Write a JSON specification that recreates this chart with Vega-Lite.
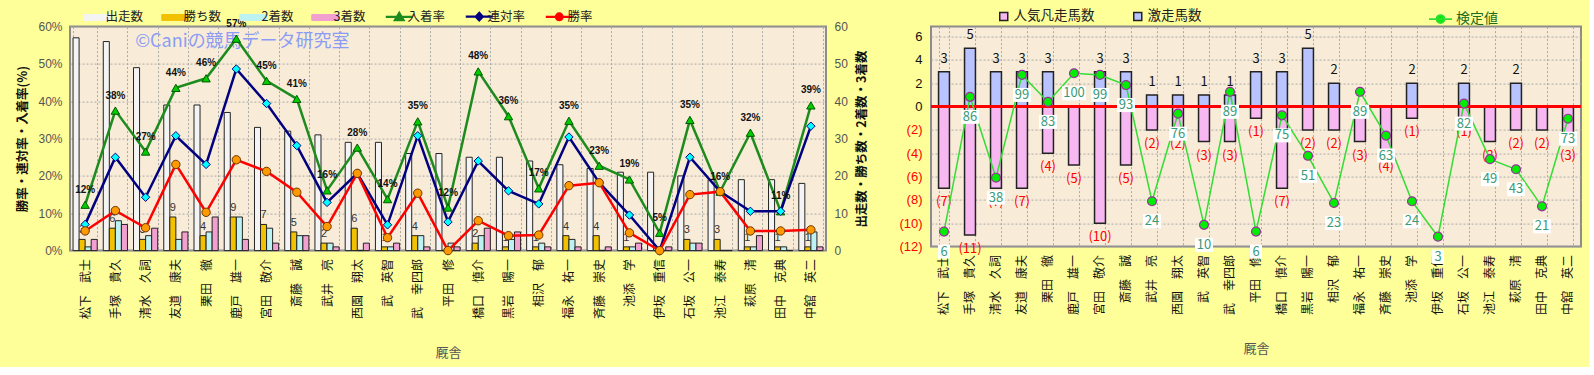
{
  "$schema": "https://vega.github.io/schema/vega-lite/v6.json",
  "background": "#FFFF99",
  "padding": {"left": 15, "top": 5.6, "right": 5, "bottom": 5},
  "spacing": 28,
  "config": {
    "font": "Noto Sans CJK JP",
    "view": {"fill": "#F8ECD8", "stroke": "#8C8C8C", "strokeWidth": 2},
    "axis": {"labelFont": "Noto Sans CJK JP", "titleFont": "Noto Sans CJK JP", "domain": false, "ticks": false, "gridColor": "#AAAAAA", "gridDash": [2, 2], "gridWidth": 1, "labelColor": "#444444", "labelFontSize": 12, "labelOverlap": false},
    "legend": {"labelFont": "Noto Sans CJK JP", "labelFontSize": 12.5, "labelColor": "#222222"}
  },
  "resolve": {"scale": {"color": "independent", "fill": "independent", "stroke": "independent", "shape": "independent"}, "legend": {"color": "independent", "fill": "independent", "stroke": "independent", "shape": "independent"}},
  "datasets": {
    "d": [
      {"厩舎": "松下　武士", "出走数": 57, "勝ち数": 3, "2着数": 1, "3着数": 3, "勝率": 0.0526, "連対率": 0.0702, "入着率": 0.1228, "激走馬数": 3, "人気凡走馬数": -7, "検定値": 6},
      {"厩舎": "手塚　貴久", "出走数": 56, "勝ち数": 6, "2着数": 8, "3着数": 7, "勝率": 0.1071, "連対率": 0.25, "入着率": 0.375, "激走馬数": 5, "人気凡走馬数": -11, "検定値": 86},
      {"厩舎": "清水　久詞", "出走数": 49, "勝ち数": 3, "2着数": 4, "3着数": 6, "勝率": 0.0612, "連対率": 0.1429, "入着率": 0.2653, "激走馬数": 3, "人気凡走馬数": -7, "検定値": 38},
      {"厩舎": "友道　康夫", "出走数": 39, "勝ち数": 9, "2着数": 3, "3着数": 5, "勝率": 0.2308, "連対率": 0.3077, "入着率": 0.4359, "激走馬数": 3, "人気凡走馬数": -7, "検定値": 99},
      {"厩舎": "栗田　徹", "出走数": 39, "勝ち数": 4, "2着数": 5, "3着数": 9, "勝率": 0.1026, "連対率": 0.2308, "入着率": 0.4615, "激走馬数": 3, "人気凡走馬数": -4, "検定値": 83},
      {"厩舎": "鹿戸　雄一", "出走数": 37, "勝ち数": 9, "2着数": 9, "3着数": 3, "勝率": 0.2432, "連対率": 0.4865, "入着率": 0.5676, "激走馬数": 0, "人気凡走馬数": -5, "検定値": 100},
      {"厩舎": "宮田　敬介", "出走数": 33, "勝ち数": 7, "2着数": 6, "3着数": 2, "勝率": 0.2121, "連対率": 0.3939, "入着率": 0.4545, "激走馬数": 3, "人気凡走馬数": -10, "検定値": 99},
      {"厩舎": "斎藤　誠", "出走数": 32, "勝ち数": 5, "2着数": 4, "3着数": 4, "勝率": 0.1563, "連対率": 0.2813, "入着率": 0.4063, "激走馬数": 3, "人気凡走馬数": -5, "検定値": 93},
      {"厩舎": "武井　亮", "出走数": 31, "勝ち数": 2, "2着数": 2, "3着数": 1, "勝率": 0.0645, "連対率": 0.129, "入着率": 0.1613, "激走馬数": 1, "人気凡走馬数": -2, "検定値": 24},
      {"厩舎": "西園　翔太", "出走数": 29, "勝ち数": 6, "2着数": 0, "3着数": 2, "勝率": 0.2069, "連対率": 0.2069, "入着率": 0.2759, "激走馬数": 1, "人気凡走馬数": -2, "検定値": 76},
      {"厩舎": "武　英智", "出走数": 29, "勝ち数": 1, "2着数": 1, "3着数": 2, "勝率": 0.0345, "連対率": 0.069, "入着率": 0.1379, "激走馬数": 1, "人気凡走馬数": -3, "検定値": 10},
      {"厩舎": "武　幸四郎", "出走数": 26, "勝ち数": 4, "2着数": 4, "3着数": 1, "勝率": 0.1538, "連対率": 0.3077, "入着率": 0.3462, "激走馬数": 1, "人気凡走馬数": -3, "検定値": 89},
      {"厩舎": "平田　修", "出走数": 26, "勝ち数": 0, "2着数": 2, "3着数": 1, "勝率": 0, "連対率": 0.0769, "入着率": 0.1154, "激走馬数": 3, "人気凡走馬数": -1, "検定値": 6},
      {"厩舎": "橋口　慎介", "出走数": 25, "勝ち数": 2, "2着数": 4, "3着数": 6, "勝率": 0.08, "連対率": 0.24, "入着率": 0.48, "激走馬数": 3, "人気凡走馬数": -7, "検定値": 75},
      {"厩舎": "黒岩　陽一", "出走数": 25, "勝ち数": 1, "2着数": 3, "3着数": 5, "勝率": 0.04, "連対率": 0.16, "入着率": 0.36, "激走馬数": 5, "人気凡走馬数": -2, "検定値": 51},
      {"厩舎": "相沢　郁", "出走数": 24, "勝ち数": 1, "2着数": 2, "3着数": 1, "勝率": 0.0417, "連対率": 0.125, "入着率": 0.1667, "激走馬数": 2, "人気凡走馬数": -2, "検定値": 23},
      {"厩舎": "福永　祐一", "出走数": 23, "勝ち数": 4, "2着数": 3, "3着数": 1, "勝率": 0.1739, "連対率": 0.3043, "入着率": 0.3478, "激走馬数": 0, "人気凡走馬数": -3, "検定値": 89},
      {"厩舎": "斉藤　崇史", "出走数": 22, "勝ち数": 4, "2着数": 0, "3着数": 1, "勝率": 0.1818, "連対率": 0.1818, "入着率": 0.2273, "激走馬数": 0, "人気凡走馬数": -4, "検定値": 63},
      {"厩舎": "池添　学", "出走数": 21, "勝ち数": 1, "2着数": 1, "3着数": 2, "勝率": 0.0476, "連対率": 0.0952, "入着率": 0.1905, "激走馬数": 2, "人気凡走馬数": -1, "検定値": 24},
      {"厩舎": "伊坂　重信", "出走数": 21, "勝ち数": 0, "2着数": 0, "3着数": 1, "勝率": 0, "連対率": 0, "入着率": 0.0476, "激走馬数": 0, "人気凡走馬数": 0, "検定値": 3},
      {"厩舎": "石坂　公一", "出走数": 20, "勝ち数": 3, "2着数": 2, "3着数": 2, "勝率": 0.15, "連対率": 0.25, "入着率": 0.35, "激走馬数": 2, "人気凡走馬数": -1, "検定値": 82},
      {"厩舎": "池江　泰寿", "出走数": 19, "勝ち数": 3, "2着数": 0, "3着数": 0, "勝率": 0.1579, "連対率": 0.1579, "入着率": 0.1579, "激走馬数": 0, "人気凡走馬数": -3, "検定値": 49},
      {"厩舎": "萩原　清", "出走数": 19, "勝ち数": 1, "2着数": 1, "3着数": 4, "勝率": 0.0526, "連対率": 0.1053, "入着率": 0.3158, "激走馬数": 2, "人気凡走馬数": -2, "検定値": 43},
      {"厩舎": "田中　克典", "出走数": 19, "勝ち数": 1, "2着数": 1, "3着数": 0, "勝率": 0.0526, "連対率": 0.1053, "入着率": 0.1053, "激走馬数": 0, "人気凡走馬数": -2, "検定値": 21},
      {"厩舎": "中舘　英二", "出走数": 18, "勝ち数": 1, "2着数": 5, "3着数": 1, "勝率": 0.0556, "連対率": 0.3333, "入着率": 0.3889, "激走馬数": 0, "人気凡走馬数": -3, "検定値": 73}
    ]
  },
  "hconcat": [
    {
      "width": 756,
      "height": 224,
      "data": {"name": "d"},
      "layer": [
        {
          "layer": [
            {
              "transform": [{"fold": ["出走数", "勝ち数", "2着数", "3着数"], "as": ["key", "value"]}],
              "mark": {"type": "bar", "stroke": "#222222", "strokeWidth": 1},
              "encoding": {
                "x": {"field": "厩舎", "type": "nominal", "sort": null, "scale": {"paddingInner": 0.2, "paddingOuter": 0.1},
                  "axis": {"title": "厩舎", "labelAngle": -90, "labelPadding": 8, "labelColor": "#111111", "labelFontSize": 12, "tickBand": "extent", "grid": true, "titlePadding": 28, "titleFontSize": 13, "titleFontWeight": "normal", "titleColor": "#555555"}},
                "xOffset": {"field": "key", "type": "nominal", "scale": {"domain": ["出走数", "勝ち数", "2着数", "3着数"], "paddingInner": 0, "paddingOuter": 0}},
                "y": {"field": "value", "type": "quantitative", "stack": null, "scale": {"domain": [0, 60], "nice": false},
                  "axis": {"orient": "right", "values": [0, 10, 20, 30, 40, 50, 60], "tickCount": 20, "grid": false, "title": "出走数・勝ち数・2着数・3着数", "titleAngle": 270, "titleBaseline": "top", "titleFontSize": 12.5, "titleFontWeight": "bold", "titleColor": "#111111", "labelFont": "Liberation Sans", "labelColor": "#555555", "labelPadding": 8, "titlePadding": 8, "labelOverlap": false, "labelFlush": false}},
                "color": {"field": "key", "type": "nominal",
                  "scale": {"domain": ["出走数", "勝ち数", "2着数", "3着数", "入着率", "連対率", "勝率"], "range": ["#F4F4F4", "#F2C200", "#BDF2F2", "#F2A0D0", "#1E8B1E", "#000080", "#FF0000"]},
                  "legend": {"title": null, "orient": "none", "legendX": 21, "legendY": -16.5, "direction": "horizontal", "columns": 7, "symbolSize": 729, "columnPadding": 15, "labelOffset": 2,
                    "encode": {"symbols": {"update": {
                      "shape": {"signal": "datum.value === '入着率' ? 'M-1,0H1M-0.32,0.24L0,-0.3L0.32,0.24Z' : datum.value === '連対率' ? 'M-1,0H1M0,-0.28L0.26,0L0,0.28L-0.26,0Z' : datum.value === '勝率' ? 'M-1,0H1M0.25,0A0.25,0.25 0 1 1 -0.25,0A0.25,0.25 0 1 1 0.25,0Z' : 'M-1,-0.22H1V0.22H-1Z'"},
                      "fill": {"signal": "datum.value === '入着率' ? '#00CC00' : datum.value === '連対率' ? '#00FFFF' : datum.value === '勝率' ? '#FF9900' : datum.value === '出走数' ? '#F4F4F4' : datum.value === '勝ち数' ? '#F2C200' : datum.value === '2着数' ? '#BDF2F2' : '#F2A0D0'"},
                      "stroke": {"signal": "datum.value === '入着率' ? '#1E8B1E' : datum.value === '連対率' ? '#000080' : datum.value === '勝率' ? '#FF0000' : '#222222'"},
                      "strokeWidth": {"signal": "indexof(['入着率','連対率','勝率'], datum.value) >= 0 ? 2.2 : 1"},
                      "opacity": {"value": 1}
                    }}}}}
              }
            },
            {
              "transform": [{"fold": ["出走数", "勝ち数", "2着数", "3着数"], "as": ["key", "value"]}, {"filter": "datum.key === '勝ち数' && datum.value > 0"}],
              "mark": {"type": "text", "baseline": "bottom", "dy": -4, "fontSize": 11, "color": "#333333", "font": "Liberation Sans"},
              "encoding": {
                "x": {"field": "厩舎", "type": "nominal", "sort": null, "scale": {"paddingInner": 0.2, "paddingOuter": 0.1}},
                "xOffset": {"field": "key", "type": "nominal", "scale": {"domain": ["出走数", "勝ち数", "2着数", "3着数"], "paddingInner": 0, "paddingOuter": 0}},
                "y": {"field": "value", "type": "quantitative"},
                "text": {"field": "value", "type": "quantitative"}
              }
            }
          ]
        },
        {
          "layer": [
            {
              "data": {"values": [{}]},
              "mark": {"type": "text", "fontSize": 18, "color": "#8C9CF5", "align": "center", "baseline": "middle", "dx": 6},
              "encoding": {
                "x": {"datum": "鹿戸　雄一", "type": "nominal", "sort": null, "scale": {"paddingInner": 0.2, "paddingOuter": 0.1}},
                "y": {"datum": 0.56, "type": "quantitative"},
                "text": {"value": "©Caniの競馬データ研究室"}
              }
            },
            {
              "transform": [{"fold": ["入着率", "連対率", "勝率"], "as": ["key", "value"]}],
              "mark": {"type": "line", "strokeWidth": 2.5},
              "encoding": {
                "x": {"field": "厩舎", "type": "nominal", "sort": null, "scale": {"paddingInner": 0.2, "paddingOuter": 0.1}},
                "y": {"field": "value", "type": "quantitative", "scale": {"domain": [0, 0.6], "nice": false},
                  "axis": {"orient": "left", "values": [0, 0.1, 0.2, 0.3, 0.4, 0.5, 0.6], "tickCount": 20, "format": ".0%", "grid": true, "title": "勝率・連対率・入着率(%)", "titleFontSize": 12.5, "titleFontWeight": "bold", "titleColor": "#111111", "labelFont": "Liberation Sans", "labelColor": "#555555", "labelPadding": 8, "titlePadding": 8, "labelOverlap": false, "labelFlush": false}},
                "color": {"field": "key", "type": "nominal",
                  "scale": {"domain": ["出走数", "勝ち数", "2着数", "3着数", "入着率", "連対率", "勝率"], "range": ["#F4F4F4", "#F2C200", "#BDF2F2", "#F2A0D0", "#1E8B1E", "#000080", "#FF0000"]},
                  "legend": {"title": null, "orient": "none", "legendX": 21, "legendY": -16.5, "direction": "horizontal", "columns": 7, "symbolSize": 729, "columnPadding": 15, "labelOffset": 2,
                    "encode": {"symbols": {"update": {
                      "shape": {"signal": "datum.value === '入着率' ? 'M-1,0H1M-0.32,0.24L0,-0.3L0.32,0.24Z' : datum.value === '連対率' ? 'M-1,0H1M0,-0.28L0.26,0L0,0.28L-0.26,0Z' : datum.value === '勝率' ? 'M-1,0H1M0.25,0A0.25,0.25 0 1 1 -0.25,0A0.25,0.25 0 1 1 0.25,0Z' : 'M-1,-0.22H1V0.22H-1Z'"},
                      "fill": {"signal": "datum.value === '入着率' ? '#00CC00' : datum.value === '連対率' ? '#00FFFF' : datum.value === '勝率' ? '#FF9900' : datum.value === '出走数' ? '#F4F4F4' : datum.value === '勝ち数' ? '#F2C200' : datum.value === '2着数' ? '#BDF2F2' : '#F2A0D0'"},
                      "stroke": {"signal": "datum.value === '入着率' ? '#1E8B1E' : datum.value === '連対率' ? '#000080' : datum.value === '勝率' ? '#FF0000' : '#222222'"},
                      "strokeWidth": {"signal": "indexof(['入着率','連対率','勝率'], datum.value) >= 0 ? 2.2 : 1"},
                      "opacity": {"value": 1}
                    }}}}}
              }
            },
            {
              "transform": [{"fold": ["入着率", "連対率", "勝率"], "as": ["key", "value"]}],
              "mark": {"type": "point", "filled": true, "size": 70, "strokeWidth": 1, "opacity": 1},
              "encoding": {
                "x": {"field": "厩舎", "type": "nominal", "sort": null, "scale": {"paddingInner": 0.2, "paddingOuter": 0.1}},
                "y": {"field": "value", "type": "quantitative"},
                "shape": {"field": "key", "type": "nominal", "scale": {"domain": ["入着率", "連対率", "勝率"], "range": ["triangle-up", "diamond", "circle"]}, "legend": null},
                "fill": {"field": "key", "type": "nominal", "scale": {"domain": ["入着率", "連対率", "勝率"], "range": ["#00CC00", "#00FFFF", "#FF9900"]}, "legend": null},
                "stroke": {"field": "key", "type": "nominal", "scale": {"domain": ["入着率", "連対率", "勝率"], "range": ["#005A00", "#000080", "#6B3300"]}, "legend": null}
              }
            },
            {
              "mark": {"type": "text", "baseline": "bottom", "dy": -10, "fontSize": 10, "fontWeight": "bold", "font": "Liberation Sans", "color": "#111111"},
              "encoding": {
                "x": {"field": "厩舎", "type": "nominal", "sort": null, "scale": {"paddingInner": 0.2, "paddingOuter": 0.1}},
                "y": {"field": "入着率", "type": "quantitative"},
                "text": {"field": "入着率", "type": "quantitative", "format": ".0%"}
              }
            }
          ]
        }
      ],
      "resolve": {"scale": {"y": "independent"}}
    },
    {
      "width": 650,
      "height": 220,
      "data": {"name": "d"},
      "layer": [
        {
          "layer": [
            {
              "transform": [{"fold": ["人気凡走馬数", "激走馬数"], "as": ["key", "value"]}],
              "mark": {"type": "bar", "stroke": "#222222", "strokeWidth": 1.5},
              "encoding": {
                "x": {"field": "厩舎", "type": "nominal", "sort": null, "scale": {"paddingInner": 0.58, "paddingOuter": 0.29},
                  "axis": {"title": "厩舎", "labelAngle": -90, "labelPadding": 8, "labelColor": "#111111", "labelFontSize": 12, "tickBand": "extent", "grid": true, "titlePadding": 28, "titleFontSize": 13, "titleFontWeight": "normal", "titleColor": "#555555"}},
                "y": {"field": "value", "type": "quantitative", "stack": null, "scale": {"domain": [-12, 6.86], "nice": false},
                  "axis": {"values": [-12, -10, -8, -6, -4, -2, 0, 2, 4, 6], "tickCount": 30, "format": "(d", "grid": true, "title": null, "labelPadding": 9, "labelFont": "Liberation Sans", "labelFontSize": 13, "labelOverlap": false, "labelFlush": false,
                    "labelColor": {"condition": {"test": "datum.value < 0", "value": "#FF0000"}, "value": "#111111"}}},
                "color": {"field": "key", "type": "nominal",
                  "scale": {"domain": ["人気凡走馬数", "激走馬数"], "range": ["#F7B8F2", "#B9C3FF"]},
                  "legend": {"title": null, "orient": "none", "legendX": 66, "legendY": -17, "direction": "horizontal", "columns": 2, "symbolType": "square", "symbolSize": 64, "columnPadding": 35, "labelOffset": 3, "labelFontSize": 13.5,
                    "encode": {"symbols": {"update": {"stroke": {"value": "#222222"}, "strokeWidth": {"value": 1}, "opacity": {"value": 1}}}}}}
              }
            },
            {
              "transform": [{"filter": "datum['激走馬数'] > 0"}],
              "mark": {"type": "text", "baseline": "bottom", "dy": -6, "fontSize": 13, "color": "#111111"},
              "encoding": {
                "x": {"field": "厩舎", "type": "nominal", "sort": null, "scale": {"paddingInner": 0.58, "paddingOuter": 0.29}},
                "y": {"field": "激走馬数", "type": "quantitative"},
                "text": {"field": "激走馬数", "type": "quantitative"}
              }
            },
            {
              "transform": [{"filter": "datum['人気凡走馬数'] < 0"}],
              "mark": {"type": "text", "baseline": "top", "dy": 8, "fontSize": 13, "color": "#FF0000"},
              "encoding": {
                "x": {"field": "厩舎", "type": "nominal", "sort": null, "scale": {"paddingInner": 0.58, "paddingOuter": 0.29}},
                "y": {"field": "人気凡走馬数", "type": "quantitative"},
                "text": {"field": "人気凡走馬数", "type": "quantitative", "format": "(d"}
              }
            },
            {
              "data": {"values": [{}]},
              "mark": {"type": "rule", "color": "#FF0000", "strokeWidth": 3},
              "encoding": {"y": {"datum": 0, "type": "quantitative"}}
            }
          ]
        },
        {
          "layer": [
            {
              "mark": {"type": "line", "strokeWidth": 1.5},
              "encoding": {
                "x": {"field": "厩舎", "type": "nominal", "sort": null, "scale": {"paddingInner": 0.58, "paddingOuter": 0.29}},
                "y": {"field": "検定値", "type": "quantitative", "scale": {"domain": [-2.9, 127.7], "nice": false, "zero": false}, "axis": null},
                "stroke": {"datum": "検定値", "type": "nominal", "scale": {"domain": ["検定値"], "range": ["#33DD33"]},
                  "legend": {"title": null, "orient": "none", "legendX": 497, "legendY": -20, "symbolSize": 529, "labelOffset": 3, "labelFontSize": 14, "labelColor": "#1E6B1E",
                    "encode": {"symbols": {"update": {
                      "shape": {"value": "M-1,0H1M0.35,0A0.35,0.35 0 1 1 -0.35,0A0.35,0.35 0 1 1 0.35,0Z"},
                      "fill": {"value": "#00EE00"},
                      "stroke": {"value": "#33CC33"},
                      "strokeWidth": {"value": 1.8},
                      "opacity": {"value": 1}
                    }}}}}
              }
            },
            {
              "mark": {"type": "point", "filled": true, "size": 80, "fill": "#00EE00", "stroke": "#993399", "strokeWidth": 1.2, "opacity": 1},
              "encoding": {
                "x": {"field": "厩舎", "type": "nominal", "sort": null, "scale": {"paddingInner": 0.58, "paddingOuter": 0.29}},
                "y": {"field": "検定値", "type": "quantitative"}
              }
            },
            {
              "mark": {"type": "point", "filled": true, "size": 400, "fill": "#FFFFFF", "strokeWidth": 0, "opacity": 1, "yOffset": 20},
              "encoding": {
                "x": {"field": "厩舎", "type": "nominal", "sort": null, "scale": {"paddingInner": 0.58, "paddingOuter": 0.29}},
                "y": {"field": "検定値", "type": "quantitative"},
                "shape": {"condition": [{"test": "datum['検定値'] >= 100", "value": "M-1.2,-0.7H1.2V0.7H-1.2Z"}, {"test": "datum['検定値'] < 10", "value": "M-0.6,-0.7H0.6V0.7H-0.6Z"}], "value": "M-0.9,-0.7H0.9V0.7H-0.9Z"}
              }
            },
            {
              "mark": {"type": "text", "baseline": "middle", "dy": 20, "fontSize": 13, "color": "#3A9A78"},
              "encoding": {
                "x": {"field": "厩舎", "type": "nominal", "sort": null, "scale": {"paddingInner": 0.58, "paddingOuter": 0.29}},
                "y": {"field": "検定値", "type": "quantitative"},
                "text": {"field": "検定値", "type": "quantitative"}
              }
            }
          ]
        }
      ],
      "resolve": {"scale": {"y": "independent"}}
    }
  ]
}
